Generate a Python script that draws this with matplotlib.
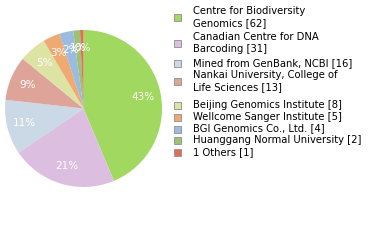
#!/usr/bin/env python3
"""Pie chart of sequence sources with a side legend."""
import matplotlib
matplotlib.use("Agg")
import matplotlib.pyplot as plt
from matplotlib.patches import Rectangle

W, H = 380, 240

# data
labels = [
    "Centre for Biodiversity\nGenomics",
    "Canadian Centre for DNA\nBarcoding",
    "Mined from GenBank, NCBI",
    "Nankai University, College of\nLife Sciences",
    "Beijing Genomics Institute",
    "Wellcome Sanger Institute",
    "BGI Genomics Co., Ltd.",
    "Huanggang Normal University",
    "1 Others",
]
counts = [62, 31, 16, 13, 8, 5, 4, 2, 1]
colors = ["#a0d860", "#dcbfe0", "#cbd8e5", "#dea49a", "#dde3a2",
          "#eeaa70", "#9bbbe0", "#9dc276", "#de6f55"]

fig = plt.figure(figsize=(W / 100, H / 100), dpi=100)

# pie: centre about (83.5, 108.5) px, radius ~78.5 px
cx, cy, r = 83.5, 108.5, 78.5
ax = fig.add_axes([(cx - r) / W, (H - cy - r) / H, 2 * r / W, 2 * r / H])
ax.pie(counts, colors=colors, startangle=90, counterclock=False,
       autopct=lambda p: f"{int(p)}%", pctdistance=0.77,
       textprops=dict(color="white", fontsize=7.5, family="DejaVu Sans"),
       wedgeprops=dict(linewidth=0))
ax.set_xlim(-1, 1)
ax.set_ylim(-1, 1)
ax.set_aspect("auto")
ax.axis("off")

# legend, drawn by hand in pixel coords
line_y = [9.5, 36, 62, 74, 104, 116, 127.5, 139, 151]
line_h = 12.4
for lab, n, col, y in zip(labels, counts, colors, line_y):
    parts = f"{lab} [{n}]".split("\n")
    for i, part in enumerate(parts):
        fig.text(193 / W, 1 - (y + i * line_h) / H, part, ha="left",
                 va="center_baseline", fontsize=7.2, color="black")
    my = y + (len(parts) - 1) * line_h / 2 + 1.5
    fig.patches.append(Rectangle((174 / W, 1 - (my + 3.5) / H), 7 / W, 7 / H,
                                 facecolor=col, edgecolor="#999999",
                                 linewidth=0.7, transform=fig.transFigure,
                                 figure=fig))

fig.savefig("out.png", dpi=100)
